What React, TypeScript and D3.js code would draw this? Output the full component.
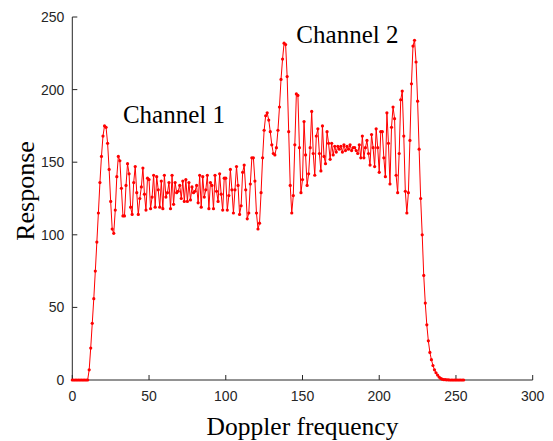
import React from "react";
import * as d3 from "d3";

const response: number[] = [
  0, 0, 0, 0, 0, 0, 0, 0, 0, 0,
  0, 7, 22, 39, 56, 75, 95, 115, 136, 154,
  168, 175, 174, 163, 145, 123, 104, 101, 117, 140,
  154, 151, 132, 113, 113, 134, 149, 142, 119, 114,
  136, 147, 129, 114, 125, 133, 146, 128, 117, 139,
  138, 118, 126, 141, 119, 140, 131, 119, 137, 118,
  141, 126, 129, 136, 118, 141, 121, 136, 129, 130,
  134, 125, 137, 123, 138, 123, 136, 124, 133, 129,
  130, 134, 122, 141, 119, 140, 126, 131, 141, 118,
  136, 134, 118, 141, 130, 123, 142, 128, 117, 139,
  139, 117, 127, 145, 131, 115, 131, 147, 134, 114,
  120, 143, 148, 131, 111, 115, 135, 153, 153, 137,
  115, 104, 108, 129, 153, 172, 182, 184, 179, 171,
  162, 156, 155, 160, 172, 188, 207, 221, 232, 231,
  209, 171, 134, 115, 127, 162, 197, 196, 160, 129,
  138, 178, 155, 134, 142, 160, 185, 156, 141, 168,
  173, 156, 144, 175, 154, 149, 171, 163, 152, 163,
  155, 161, 157, 161, 159, 161, 157, 162, 158, 161,
  159, 162, 158, 160, 160, 158, 156, 162, 153, 168,
  153, 160, 165, 156, 148, 169, 160, 147, 173, 160,
  143, 171, 171, 153, 140, 184, 163, 135, 174, 188,
  180, 141, 129, 156, 193, 199, 168, 130, 115, 129,
  165, 204, 230, 234, 219, 192, 159, 125, 100, 72,
  53, 38, 27, 19, 14, 10, 7, 5, 3.4, 2,
  1.1, 0.6, 0.3, 0.2, 0.1, 0.1, 0, 0, 0, 0,
  0, 0, 0, 0, 0, 0,
];

const xTicks: number[] = [0, 50, 100, 150, 200, 250, 300];
const yTicks: number[] = [0, 50, 100, 150, 200, 250];
const annotations = [
  { label: "Channel 1", x: 33, y: 177 },
  { label: "Channel 2", x: 146, y: 232 },
];

const W = 553;
const H = 441;
const L = 72.3;
const R = 532.7;
const T = 17;
const B = 380;

export default function App() {
  const x = d3.scaleLinear().domain([0, 300]).range([L, R]);
  const y = d3.scaleLinear().domain([0, 250]).range([B, T]);
  const pts = response.map((v, i) => [i, v] as [number, number]);
  const line = d3
    .line<[number, number]>()
    .x((d) => x(d[0]))
    .y((d) => y(d[1]));
  const tickColor = "#262626";
  const sans = "'Liberation Sans', Arial, sans-serif";
  const serif = "'Liberation Serif', 'Times New Roman', serif";
  return (
    <svg
      width={W}
      height={H}
      style={{ position: "absolute", left: 0, top: 0, background: "#fff" }}
    >
      <rect x={0} y={0} width={W} height={H} fill="#fff" />
      <line x1={L} x2={R} y1={B} y2={B} stroke={tickColor} strokeWidth={1} />
      <line x1={L} x2={L} y1={T} y2={B} stroke={tickColor} strokeWidth={1} />
      {xTicks.map((t) => (
        <g key={"x" + t}>
          <line x1={x(t)} x2={x(t)} y1={B} y2={B - 5} stroke={tickColor} />
          <text
            x={x(t)}
            y={401}
            textAnchor="middle"
            fontFamily={sans}
            fontSize={14}
            fill={tickColor}
          >
            {t}
          </text>
        </g>
      ))}
      {yTicks.map((t) => (
        <g key={"y" + t}>
          <line x1={L} x2={L + 5} y1={y(t)} y2={y(t)} stroke={tickColor} />
          <text
            x={L - 8}
            y={y(t)}
            dy="0.35em"
            textAnchor="end"
            fontFamily={sans}
            fontSize={14}
            fill={tickColor}
          >
            {t}
          </text>
        </g>
      ))}
      <path d={line(pts) || ""} fill="none" stroke="#ff0000" strokeWidth={1} />
      {pts.map((d, i) => (
        <circle key={i} cx={x(d[0])} cy={y(d[1])} r={1.6} fill="#ff0000" />
      ))}
      {annotations.map((a) => (
        <text
          key={a.label}
          x={x(a.x)}
          y={y(a.y)}
          fontFamily={serif}
          fontSize={25}
          fill="#000"
        >
          {a.label}
        </text>
      ))}
      <text
        x={(L + R) / 2}
        y={434.5}
        textAnchor="middle"
        fontFamily={serif}
        fontSize={25.5}
        fill="#000"
      >
        Doppler frequency
      </text>
      <text
        transform={`translate(34, 191) rotate(-90)`}
        textAnchor="middle"
        fontFamily={serif}
        fontSize={26}
        fill="#000"
      >
        Response
      </text>
    </svg>
  );
}
